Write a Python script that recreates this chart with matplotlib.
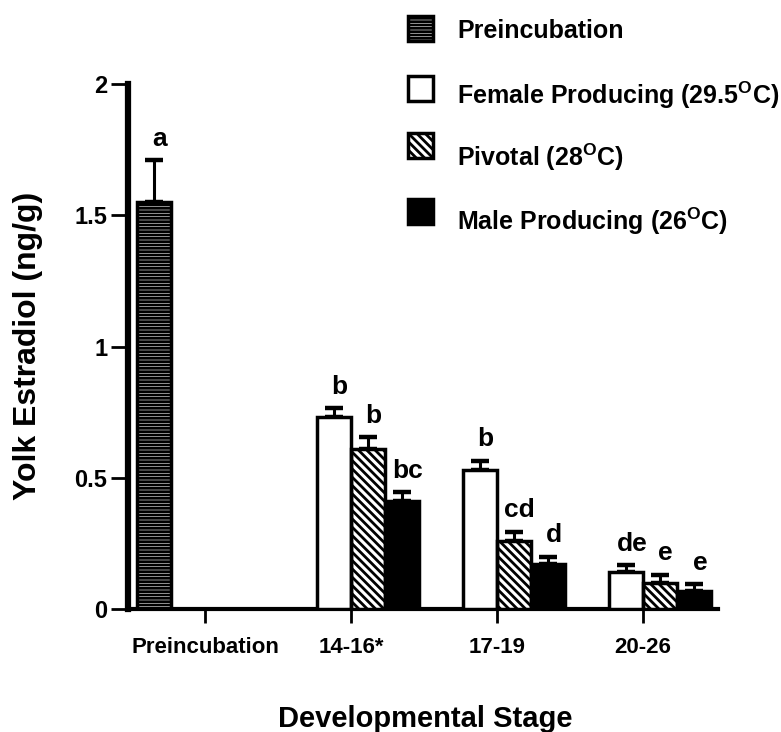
import matplotlib
matplotlib.use("Agg")
import matplotlib.pyplot as plt
from matplotlib.patches import Rectangle
import numpy as np

plt.rcParams.update({
    "font.family": "Liberation Sans",
    "font.weight": "bold",
    "mathtext.fontset": "custom",
    "mathtext.rm": "Liberation Sans:bold",
    "mathtext.bf": "Liberation Sans:bold",
    "hatch.linewidth": 2.0,
})

# Data: yolk estradiol (ng/g), mean and upper error per developmental stage
stages = ["Preincubation", "14-16*", "17-19", "20-26"]
preinc_mean = [1.55, None, None, None]
preinc_err = [0.16, None, None, None]
female_mean = [None, 0.73, 0.53, 0.14]
female_err = [None, 0.035, 0.035, 0.027]
pivotal_mean = [None, 0.61, 0.26, 0.10]
pivotal_err = [None, 0.045, 0.035, 0.03]
male_mean = [None, 0.41, 0.17, 0.07]
male_err = [None, 0.035, 0.03, 0.025]

# significance groupings
preinc_letters = ["a", "", "", ""]
female_letters = ["", "b", "b", "de"]
pivotal_letters = ["", "b", "cd", "e"]
male_letters = ["", "bc", "d", "e"]

series_names = [
    "Preincubation",
    r"Female Producing (29.5$^{\mathrm{O}}$C)",
    r"Pivotal (28$^{\mathrm{O}}$C)",
    r"Male Producing (26$^{\mathrm{O}}$C)",
]

# face colour, hatch colour, hatch pattern
styles = [
    ("white", "black", "-----"),
    ("white", "white", None),
    ("white", "black", "\\\\\\\\"),
    ("black", "black", None),
]

W, H = 781, 732
fig = plt.figure(figsize=(W / 100, H / 100), dpi=100)
ax = fig.add_axes([128 / W, 1 - 609 / H, 590 / W, 525 / H])

x = np.arange(len(stages))
width = 0.233
offsets = [-1.5, -0.5, 0.5, 1.5]

all_series = [
    (preinc_mean, preinc_err, preinc_letters),
    (female_mean, female_err, female_letters),
    (pivotal_mean, pivotal_err, pivotal_letters),
    (male_mean, male_err, male_letters),
]

for k, (mean, err, letters) in enumerate(all_series):
    idx = [i for i, v in enumerate(mean) if v is not None]
    xs = x[idx] + offsets[k] * width
    vals = np.array([mean[i] for i in idx])
    errs = np.array([err[i] for i in idx])
    face, hcol, hatch = styles[k]
    ax.bar(xs, vals, width, color=face, edgecolor=hcol, hatch=hatch,
           linewidth=0, zorder=3)
    ax.bar(xs, vals, width, fill=False, edgecolor="black", linewidth=2.5, zorder=4)
    ax.errorbar(xs, vals, yerr=[np.zeros(len(vals)), errs], fmt="none",
                ecolor="black", elinewidth=2.2, capsize=6.5, capthick=3.2, zorder=2)
    for xi, v, e, i in zip(xs, vals, errs, idx):
        ax.text(xi + 0.04, v + e + 0.055, letters[i], ha="center", va="baseline",
                fontsize=19)

ax.set_xlim(-0.527, 3.514)
ax.set_ylim(0, 2)
ax.set_xticks(x, stages)
ax.set_yticks([0, 0.5, 1, 1.5, 2], ["0", "0.5", "1", "1.5", "2"])
ax.tick_params(axis="x", length=10, width=2, pad=10, labelsize=16)
ax.tick_params(axis="y", length=12, width=2, pad=3, labelsize=17)
for s in ["top", "right"]:
    ax.spines[s].set_visible(False)
ax.spines["left"].set_linewidth(4.5)
ax.spines["bottom"].set_linewidth(3)

fig.text(28 / W, 1 - 346 / H, "Yolk Estradiol (ng/g)", rotation=90,
         ha="center", va="center", fontsize=23)
fig.text(425 / W, 1 - 719 / H, "Developmental Stage", ha="center", va="center",
         fontsize=21)

# legend drawn by hand, top right
square_centres = [28, 88, 145, 211]
text_baselines = [38, 104, 166, 230]
for k, name in enumerate(series_names):
    face, hcol, hatch = styles[k]
    cy = square_centres[k]
    fig.add_artist(Rectangle((408 / W, 1 - (cy + 12.5) / H), 25 / W, 25 / H,
                             transform=fig.transFigure, facecolor=face,
                             edgecolor=hcol, hatch=hatch, linewidth=0))
    fig.add_artist(Rectangle((408 / W, 1 - (cy + 12.5) / H), 25 / W, 25 / H,
                             transform=fig.transFigure, fill=False,
                             edgecolor="black", linewidth=2.5))
    fig.text(457 / W, 1 - text_baselines[k] / H, name, ha="left", va="baseline",
             fontsize=18)

fig.savefig("out.png", dpi=100)
plt.close(fig)
